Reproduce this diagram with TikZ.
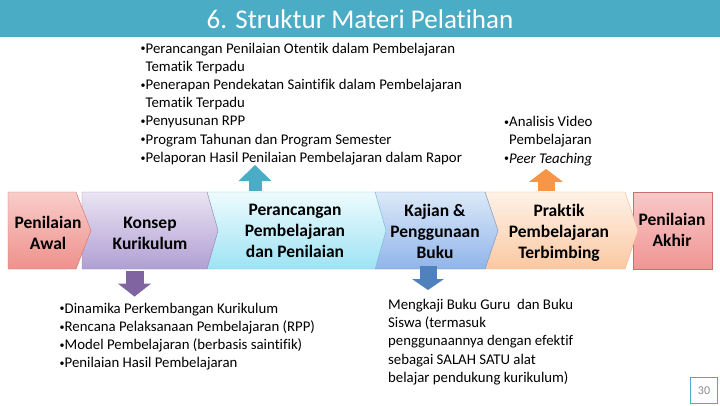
\documentclass[tikz,border=0pt]{standalone}
\usepackage{fontspec}
\setmainfont[Ligatures=NoCommon]{Carlito}
\usetikzlibrary{arrows.meta,calc}

\definecolor{titleteal}{HTML}{4BACC6}
\definecolor{arrpurple}{HTML}{8064A2}
\definecolor{arrblue}{HTML}{4F81BD}
\definecolor{arrorange}{HTML}{F79646}
\definecolor{pagegray}{HTML}{8C8C8C}

% small bullet as in the slide
\newcommand\bul{\makebox[5pt][l]{\raisebox{1.2pt}{\fontsize{10}{10}\selectfont •}}}

\tikzset{
  chevtxt/.style={align=center,inner sep=0pt,text=black,
    font=\fontsize{17.5}{21}\selectfont\bfseries},
  listtxt/.style={align=left,anchor=north west,inner sep=0pt,text=black,
    font=\fontsize{14.8}{18.2}\selectfont},
  blockarr/.style n args={4}{draw=#1,line width=#2,
    -{Triangle[length=#3,width=#4,line width=0pt]}},
}

\begin{document}
\begin{tikzpicture}[x=1pt,y=-1pt]
\useasboundingbox (0,0) rectangle (720,405);
\fill[white] (0,0) rectangle (720,405);

% title bar
\fill[titleteal] (0,0) rectangle (720,37);
\node[text=white,font=\fontsize{27}{32}\selectfont] (title) at (360,18.8) {6. Struktur Materi Pelatihan};

% chevrons, right to left so every tip lies on the next one
\draw[draw={rgb,255:red,205;green,110;blue,110},top color={rgb,255:red,248;green,200;blue,200},bottom color={rgb,255:red,240;green,150;blue,148}]
  (633,192) rectangle (712,269);
\draw[draw={rgb,255:red,240;green,180;blue,140},top color={rgb,255:red,254;green,242;blue,232},bottom color={rgb,255:red,251;green,200;blue,162}]
  (485,192) -- (625,192) -- (638,230.5) -- (625,269) -- (485,269) -- (498,230.5) -- cycle;
\draw[draw={rgb,255:red,110;green,150;blue,205},top color={rgb,255:red,220;green,233;blue,249},bottom color={rgb,255:red,144;green,181;blue,234}]
  (375,192) -- (485,192) -- (498,230.5) -- (485,269) -- (375,269) -- (386,230.5) -- cycle;
\draw[draw={rgb,255:red,125;green,195;blue,215},top color={rgb,255:red,238;green,251;blue,254},bottom color={rgb,255:red,157;green,227;blue,244}]
  (207,192) -- (375,192) -- (386,230.5) -- (375,269) -- (207,269) -- (218,230.5) -- cycle;
\draw[draw=arrpurple!80,top color={rgb,255:red,234;green,228;blue,243},bottom color={rgb,255:red,176;green,159;blue,211}]
  (82,192) -- (207,192) -- (218,230.5) -- (207,269) -- (82,269) -- cycle;
\draw[draw={rgb,255:red,215;green,110;blue,105},top color={rgb,255:red,249;green,205;blue,201},bottom color={rgb,255:red,238;green,145;blue,140}]
  (8,192) -- (76,192) -- (91,230.5) -- (76,269) -- (8,269) -- cycle;

\node[chevtxt] (awal) at (48,233) {Penilaian\\Awal};
\node[chevtxt] (konsep) at (150,233) {Konsep\\Kurikulum};
\node[chevtxt] (rancang) at (295,230.5) {Perancangan\\Pembelajaran\\dan Penilaian};
\node[chevtxt] (kajian) at (435,231.5) {Kajian \&\\Penggunaan\\Buku};
\node[chevtxt] (praktik) at (559,232.5) {Praktik\\Pembelajaran\\Terbimbing};
\node[chevtxt] (akhir) at (672,230) {Penilaian\\Akhir};

% lists
\node[listtxt] (toplist) at (140.5,42.6) {%
  \bul Perancangan Penilaian Otentik dalam Pembelajaran\\
  \phantom{\bul}Tematik Terpadu\\
  \bul Penerapan Pendekatan Saintifik dalam Pembelajaran\\
  \phantom{\bul}Tematik Terpadu\\
  \bul Penyusunan RPP\\
  \bul Program Tahunan dan Program Semester\\
  \bul Pelaporan Hasil Penilaian Pembelajaran dalam Rapor};
\node[listtxt] (praklist) at (504,116.3) {%
  \bul Analisis Video\\
  \phantom{\bul}Pembelajaran\\
  \bul\textit{Peer Teaching}};
\node[listtxt] (botlist) at (59.5,302.6) {%
  \bul Dinamika Perkembangan Kurikulum\\
  \bul Rencana Pelaksanaan Pembelajaran (RPP)\\
  \bul Model Pembelajaran (berbasis saintifik)\\
  \bul Penilaian Hasil Pembelajaran};
\node[listtxt] (bukutxt) at (388,299) {%
  Mengkaji Buku Guru~ dan Buku\\
  Siswa (termasuk\\
  penggunaannya dengan efektif\\
  sebagai SALAH SATU alat\\
  belajar pendukung kurikulum)};

% block arrows
\coordinate (rancangarr) at (255,191);
\coordinate (konsepArr) at (134.5,271);
\coordinate (kajianArr) at (428,266);
\coordinate (praktikArr) at (546,191);
\draw[blockarr={titleteal}{13pt}{16pt}{33pt}] (rancangarr) -- (rancangarr |- toplist.south);
\draw[blockarr={arrpurple}{18pt}{13pt}{33pt}] (konsepArr) -- ([yshift=6pt]botlist.north -| konsepArr);
\draw[blockarr={arrblue}{17pt}{11pt}{32pt}] (kajianArr) -- ([yshift=9pt]bukutxt.north -| kajianArr);
\draw[blockarr={arrorange}{17pt}{13pt}{34pt}] (praktikArr) -- ([yshift=-3pt]praklist.south -| praktikArr);

% page number
\node[draw=titleteal,line width=1.5pt,minimum width=27pt,minimum height=26pt,inner sep=0pt,
  text=pagegray,font=\fontsize{12}{14}\selectfont] (pgnum) at (704,390.5) {30};
\end{tikzpicture}
\end{document}
